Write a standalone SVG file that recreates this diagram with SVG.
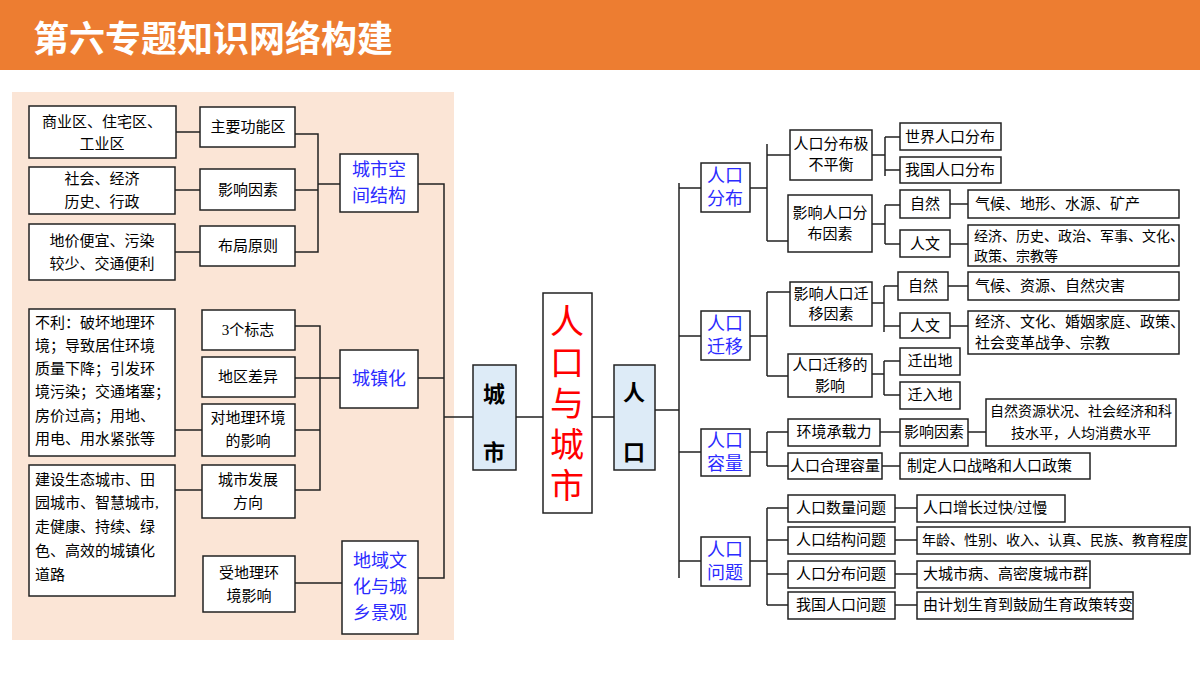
<svg xmlns="http://www.w3.org/2000/svg" width="1200" height="675" viewBox="0 0 1200 675">
<style>
text{font-family:"Liberation Serif","Noto Sans CJK SC",serif;font-size:15px;fill:#000;text-anchor:middle;dominant-baseline:central}
.b{fill:#fff;stroke:#222;stroke-width:1.5}
.bl{fill:#2b2bff;font-size:18px}
.l{text-anchor:start}
.s{font-size:14px}
.cn{fill:none;stroke:#222;stroke-width:1.5}
.v{fill:#DDEBF7;stroke:#222;stroke-width:1.5}
</style>
<rect width="1200" height="675" fill="#fff"/>
<rect x="0" y="0" width="1200" height="70" fill="#ED7D31"/>
<text x="33" y="36" style="font-family:'Noto Sans CJK SC',sans-serif;font-size:36px;font-weight:bold;fill:#fff;text-anchor:start">第六专题知识网络构建</text>
<rect x="12" y="92" width="442" height="548" fill="#FBE5D6"/>
<g id="connectors" class="cn">
<path d="M176 132H200M175 190H200M175 252H200M295 134H318V252H295M295 190H318M318 184H340M418 184H444V578H418M444 417H473"/>
<path d="M175 430H202M175 490H202M295 326H320V490H295M295 378H320M295 430H320M320 378H340M295 583H342M444 378H418"/>
<path d="M516 417H543M592 417H614M655 410H679M679 183V578M679 188H701M679 336H701M679 452H701M679 561H701"/>
<path d="M750 188H767M767 144V241M767 155H790M767 241H788M872 155H885M885 137V176M885 137H900M885 170H900M872 224H885M885 205V244M885 205H900M885 244H900M950 204H968M950 244H968"/>
<path d="M750 336H767M767 292V376M767 292H790M767 376H788M872 303H884M884 286V332M884 286H898M884 326H900M948 286H968M950 326H968M872 374H884M884 361V395M884 361H900M884 395H900"/>
<path d="M750 452H767M767 432V466M767 432H788M767 466H788M880 432H900M968 432H986M882 466H900"/>
<path d="M750 561H767M767 508V605M767 508H788M767 540H788M767 574H788M767 605H788M895 508H917M895 540H917M895 574H917M895 605H917"/>
</g>
<g id="a1"><rect class="b" x="29" y="106" width="147" height="52"/><text x="102" y="122">商业区、住宅区、</text><text x="102" y="144">工业区</text></g>
<g id="a2"><rect class="b" x="29" y="167" width="146" height="47"/><text x="102" y="179">社会、经济</text><text x="102" y="202">历史、行政</text></g>
<g id="a3"><rect class="b" x="29" y="224" width="146" height="56"/><text x="102" y="241">地价便宜、污染</text><text x="102" y="264">较少、交通便利</text></g>
<g id="b1"><rect class="b" x="200" y="107" width="95" height="40"/><text x="248" y="127">主要功能区</text></g>
<g id="b2"><rect class="b" x="200" y="169" width="95" height="41"/><text x="248" y="190">影响因素</text></g>
<g id="b3"><rect class="b" x="200" y="226" width="95" height="40"/><text x="248" y="246">布局原则</text></g>
<g id="c1"><rect class="b" x="340" y="154" width="78" height="58"/><text class="bl" x="379" y="170">城市空</text><text class="bl" x="379" y="196">间结构</text></g>
<g id="d1"><rect class="b" x="29" y="309" width="146" height="147"/>
<text class="l" x="35" y="323">不利：破坏地理环</text><text class="l" x="35" y="346">境；导致居住环境</text><text class="l" x="35" y="369">质量下降；引发环</text><text class="l" x="35" y="392">境污染；交通堵塞；</text><text class="l" x="35" y="416">房价过高；用地、</text><text class="l" x="35" y="439">用电、用水紧张等</text></g>
<g id="d2"><rect class="b" x="29" y="465" width="146" height="131"/>
<text class="l" x="35" y="480">建设生态城市、田</text><text class="l" x="35" y="503">园城市、智慧城市,</text><text class="l" x="35" y="527">走健康、持续、绿</text><text class="l" x="35" y="551">色、高效的城镇化</text><text class="l" x="35" y="575">道路</text></g>
<g id="e1"><rect class="b" x="202" y="310" width="93" height="40"/><text x="248" y="330">3个标志</text></g>
<g id="e2"><rect class="b" x="202" y="357" width="93" height="40"/><text x="248" y="377">地区差异</text></g>
<g id="e3"><rect class="b" x="202" y="404" width="93" height="52"/><text x="248" y="418">对地理环境</text><text x="248" y="441">的影响</text></g>
<g id="e4"><rect class="b" x="202" y="465" width="93" height="53"/><text x="248" y="480">城市发展</text><text x="248" y="503">方向</text></g>
<g id="c2"><rect class="b" x="340" y="350" width="78" height="58"/><text class="bl" x="379" y="379">城镇化</text></g>
<g id="f1"><rect class="b" x="203" y="556" width="92" height="56"/><text x="249" y="573">受地理环</text><text x="249" y="596">境影响</text></g>
<g id="c3"><rect class="b" x="342" y="541" width="76" height="93"/><text class="bl" x="380" y="561">地域文</text><text class="bl" x="380" y="587">化与城</text><text class="bl" x="380" y="613">乡景观</text></g>
<g id="city"><rect class="v" x="473" y="365" width="43" height="105"/><text x="494" y="392" style="font-size:22px;font-weight:bold;font-family:'Noto Sans CJK SC',sans-serif">城</text><text x="494" y="450" style="font-size:22px;font-weight:bold;font-family:'Noto Sans CJK SC',sans-serif">市</text></g>
<g id="main"><rect class="b" x="543" y="293" width="49" height="220"/><text x="567" y="322" style="font-size:34px;fill:#f00">人</text><text x="567" y="363" style="font-size:34px;fill:#f00">口</text><text x="567" y="404" style="font-size:34px;fill:#f00">与</text><text x="567" y="445" style="font-size:34px;fill:#f00">城</text><text x="567" y="486" style="font-size:34px;fill:#f00">市</text></g>
<g id="pop"><rect class="v" x="614" y="365" width="41" height="105"/><text x="634" y="390" style="font-size:22px;font-weight:bold;font-family:'Noto Sans CJK SC',sans-serif">人</text><text x="634" y="450" style="font-size:22px;font-weight:bold;font-family:'Noto Sans CJK SC',sans-serif">口</text></g>
<g id="r1"><rect class="b" x="701" y="163" width="49" height="49"/><text class="bl" x="725" y="176">人口</text><text class="bl" x="725" y="199">分布</text></g>
<g id="r2"><rect class="b" x="701" y="311" width="49" height="49"/><text class="bl" x="725" y="324">人口</text><text class="bl" x="725" y="347">迁移</text></g>
<g id="r3"><rect class="b" x="701" y="429" width="49" height="47"/><text class="bl" x="725" y="441">人口</text><text class="bl" x="725" y="464">容量</text></g>
<g id="r4"><rect class="b" x="701" y="537" width="49" height="49"/><text class="bl" x="725" y="550">人口</text><text class="bl" x="725" y="573">问题</text></g>
<g id="s1"><rect class="b" x="790" y="130" width="82" height="50"/><text x="831" y="144">人口分布极</text><text x="831" y="165">不平衡</text></g>
<g id="s1a"><rect class="b" x="900" y="123" width="101" height="27"/><text x="950" y="137">世界人口分布</text></g>
<g id="s1b"><rect class="b" x="900" y="157" width="101" height="26"/><text x="950" y="170">我国人口分布</text></g>
<g id="s2"><rect class="b" x="788" y="195" width="84" height="57"/><text x="830" y="213">影响人口分</text><text x="830" y="234">布因素</text></g>
<g id="s2a"><rect class="b" x="900" y="190" width="50" height="28"/><text x="925" y="204">自然</text></g>
<g id="s2b"><rect class="b" x="900" y="230" width="50" height="27"/><text x="925" y="244">人文</text></g>
<g id="s2c"><rect class="b" x="968" y="190" width="211" height="28"/><text class="l" x="975" y="204">气候、地形、水源、矿产</text></g>
<g id="s2d"><rect class="b" x="968" y="225" width="211" height="41"/><text class="l s" x="974" y="236">经济、历史、政治、军事、文化、</text><text class="l s" x="974" y="256">政策、宗教等</text></g>
<g id="s3"><rect class="b" x="790" y="282" width="82" height="44"/><text x="831" y="294">影响人口迁</text><text x="831" y="314">移因素</text></g>
<g id="s3a"><rect class="b" x="898" y="272" width="50" height="28"/><text x="923" y="286">自然</text></g>
<g id="s3b"><rect class="b" x="900" y="313" width="50" height="25"/><text x="925" y="326">人文</text></g>
<g id="s3c"><rect class="b" x="968" y="272" width="211" height="28"/><text class="l" x="975" y="286">气候、资源、自然灾害</text></g>
<g id="s3d"><rect class="b" x="968" y="311" width="211" height="43"/><text class="l" x="975" y="322">经济、文化、婚姻家庭、政策、</text><text class="l" x="975" y="343">社会变革战争、宗教</text></g>
<g id="s4"><rect class="b" x="788" y="354" width="84" height="43"/><text x="830" y="365">人口迁移的</text><text x="830" y="386">影响</text></g>
<g id="s4a"><rect class="b" x="900" y="348" width="60" height="27"/><text x="930" y="361">迁出地</text></g>
<g id="s4b"><rect class="b" x="900" y="382" width="60" height="27"/><text x="930" y="395">迁入地</text></g>
<g id="s5"><rect class="b" x="788" y="419" width="92" height="27"/><text x="834" y="432">环境承载力</text></g>
<g id="s5a"><rect class="b" x="900" y="419" width="68" height="27"/><text x="934" y="432">影响因素</text></g>
<g id="s5b"><rect class="b" x="986" y="399" width="190" height="47"/><text class="s" x="1081" y="411">自然资源状况、社会经济和科</text><text class="s" x="1081" y="433">技水平，人均消费水平</text></g>
<g id="s6"><rect class="b" x="788" y="453" width="94" height="26"/><text x="835" y="466">人口合理容量</text></g>
<g id="s6a"><rect class="b" x="900" y="453" width="190" height="26"/><text class="l" x="907" y="466">制定人口战略和人口政策</text></g>
<g id="p1"><rect class="b" x="788" y="495" width="107" height="27"/><text x="841" y="508">人口数量问题</text></g>
<g id="p1a"><rect class="b" x="917" y="495" width="148" height="27"/><text class="l" x="923" y="508">人口增长过快/过慢</text></g>
<g id="p2"><rect class="b" x="788" y="527" width="107" height="27"/><text x="841" y="540">人口结构问题</text></g>
<g id="p2a"><rect class="b" x="917" y="527" width="273" height="27"/><text class="l s" x="922" y="540">年龄、性别、收入、认真、民族、教育程度</text></g>
<g id="p3"><rect class="b" x="788" y="561" width="107" height="27"/><text x="841" y="574">人口分布问题</text></g>
<g id="p3a"><rect class="b" x="917" y="561" width="173" height="27"/><text class="l" x="923" y="574">大城市病、高密度城市群</text></g>
<g id="p4"><rect class="b" x="788" y="592" width="107" height="27"/><text x="841" y="605">我国人口问题</text></g>
<g id="p4a"><rect class="b" x="917" y="592" width="216" height="27"/><text class="l" x="923" y="605">由计划生育到鼓励生育政策转变</text></g>
</svg>
